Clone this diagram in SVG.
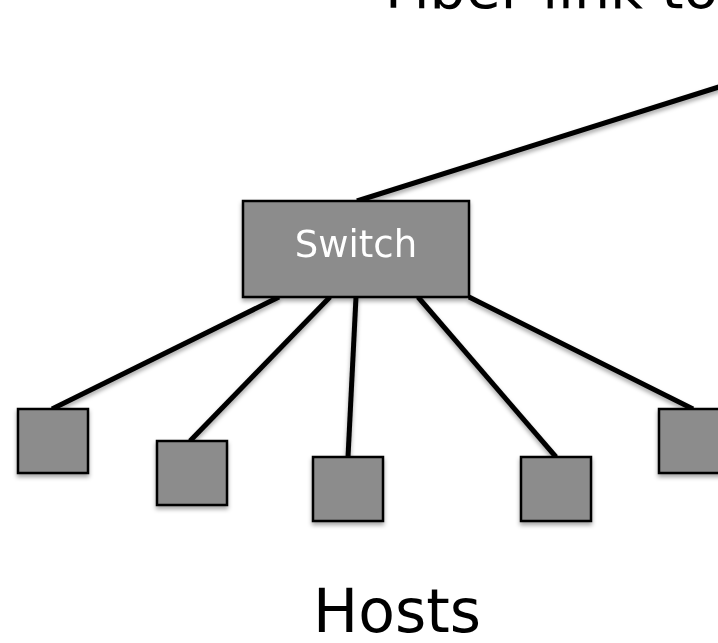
<svg xmlns="http://www.w3.org/2000/svg" width="718" height="643" viewBox="0 0 718 643">
<defs>
<filter id="sh" x="-20%" y="-20%" width="140%" height="150%">
<feDropShadow dx="0" dy="3" stdDeviation="2" flood-color="#000" flood-opacity="0.35"/>
</filter>
</defs>
<style>
.box{fill:#8c8c8c;stroke:#000;stroke-width:2.5}
.ln{stroke:#000;stroke-width:5;fill:none;stroke-linecap:butt}
.lbl{font-family:"DejaVu Sans",Verdana,sans-serif;text-anchor:middle}
</style>
<rect width="718" height="643" fill="#fff"/>
<text x="385" y="8" font-family="DejaVu Sans, Verdana, sans-serif" font-size="57" fill="#000">Fiber link to</text>
<g id="connectors" filter="url(#sh)">
<line class="ln" x1="357" y1="201" x2="722" y2="86"/>
<line class="ln" x1="279" y1="297" x2="52" y2="409"/>
<line class="ln" x1="330" y1="297" x2="190" y2="441"/>
<line class="ln" x1="356" y1="297" x2="348" y2="457"/>
<line class="ln" x1="418" y1="297" x2="556" y2="457"/>
<line class="ln" x1="469" y1="297" x2="693" y2="409"/>
</g>
<g id="switch" filter="url(#sh)">
<rect class="box" x="243" y="201" width="226" height="96"/>
<text class="lbl" x="356" y="257" font-size="37" fill="#fff">Switch</text>
</g>
<g id="host1" filter="url(#sh)"><rect class="box" x="18" y="409" width="70" height="64"/></g>
<g id="host2" filter="url(#sh)"><rect class="box" x="157" y="441" width="70" height="64"/></g>
<g id="host3" filter="url(#sh)"><rect class="box" x="313" y="457" width="70" height="64"/></g>
<g id="host4" filter="url(#sh)"><rect class="box" x="521" y="457" width="70" height="64"/></g>
<g id="host5" filter="url(#sh)"><rect class="box" x="659" y="409" width="70" height="64"/></g>
<text class="lbl" x="397" y="632" font-size="60" fill="#000">Hosts</text>
</svg>
